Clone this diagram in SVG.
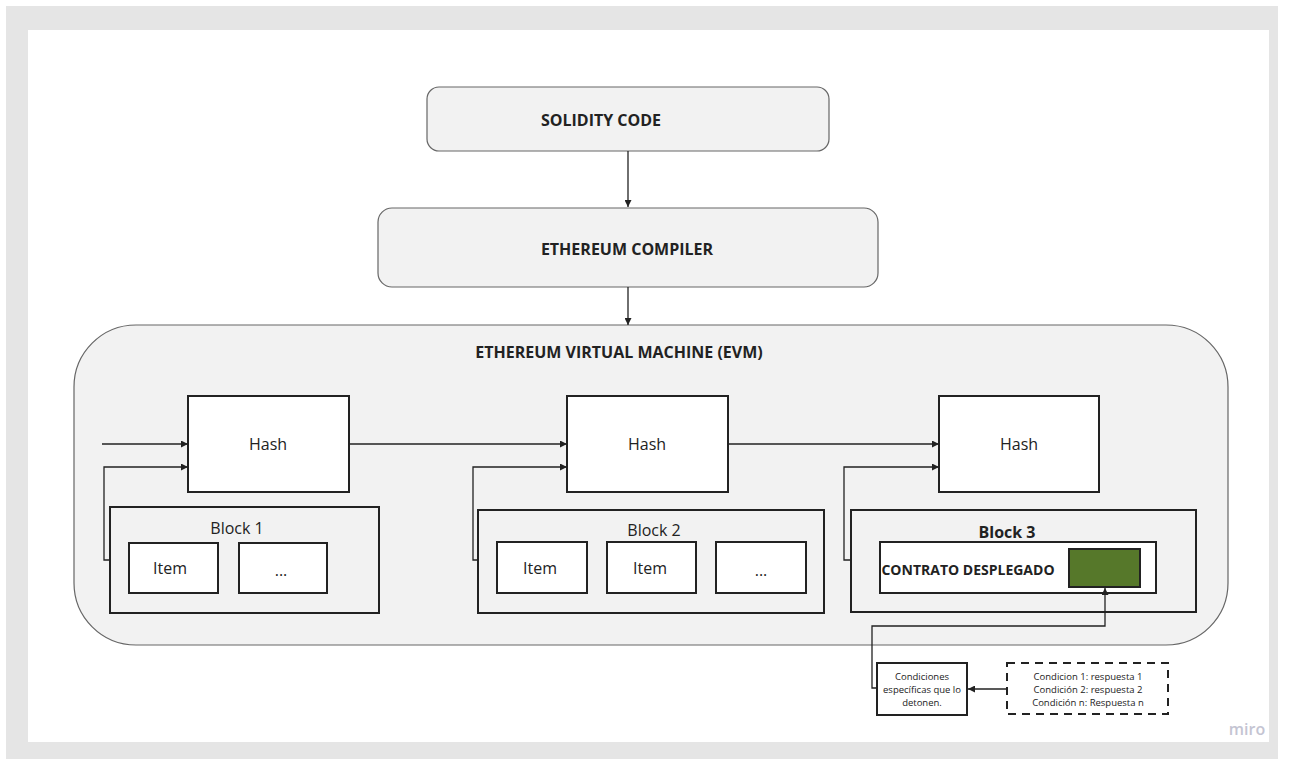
<svg xmlns="http://www.w3.org/2000/svg" width="1295" height="759" viewBox="0 0 1295 759">
<style>
.t{font-family:"Open Sans","Liberation Sans",sans-serif;fill:#222;text-anchor:middle;dominant-baseline:central}
.b{font-weight:bold}
.rb{fill:#f2f2f2;stroke:#666;stroke-width:1.2}
.box{fill:#fff;stroke:#222;stroke-width:2}
.blk{fill:#f2f2f2;stroke:#222;stroke-width:2}
.c{fill:none;stroke:#222;stroke-width:1.3}
</style>
<defs>
<marker id="ah" viewBox="0 0 8 8" refX="8" refY="4" markerWidth="7" markerHeight="7" markerUnits="userSpaceOnUse" orient="auto">
<path d="M0,0 L8,4 L0,8 z" fill="#222"/>
</marker>
</defs>
<rect x="6" y="6" width="1272" height="753" fill="#e5e5e5"/>
<rect x="28" y="30" width="1241" height="712" fill="#fff"/>
<g id="solidity">
<rect class="rb" x="427" y="87" width="402" height="64" rx="12"/>
<text class="t b" x="601" y="120" font-size="16">SOLIDITY CODE</text>
</g>
<g id="compiler">
<rect class="rb" x="378" y="208" width="500" height="79" rx="14"/>
<text class="t b" x="627" y="249" font-size="16">ETHEREUM COMPILER</text>
</g>
<g id="evm">
<rect class="rb" x="74" y="325" width="1154" height="320" rx="62"/>
<text class="t b" x="619" y="352" font-size="16">ETHEREUM VIRTUAL MACHINE (EVM)</text>
</g>
<g id="hash1">
<rect class="box" x="188" y="396" width="161" height="96"/>
<text class="t" x="268" y="444" font-size="16">Hash</text>
</g>
<g id="hash2">
<rect class="box" x="567" y="396" width="161" height="96"/>
<text class="t" x="647" y="444" font-size="16">Hash</text>
</g>
<g id="hash3">
<rect class="box" x="939" y="396" width="160" height="96"/>
<text class="t" x="1019" y="444" font-size="16">Hash</text>
</g>
<g id="block1">
<rect class="blk" x="110" y="507" width="269" height="106"/>
<text class="t" x="237" y="528" font-size="16">Block 1</text>
<rect class="box" x="129" y="543" width="89" height="50"/>
<text class="t" x="170" y="568" font-size="16">Item</text>
<rect class="box" x="239" y="543" width="88" height="50"/>
<text class="t" x="281" y="570" font-size="16">...</text>
</g>
<g id="block2">
<rect class="blk" x="478" y="510" width="346" height="103"/>
<text class="t" x="654" y="530" font-size="16">Block 2</text>
<rect class="box" x="497" y="542" width="90" height="51"/>
<text class="t" x="540" y="568" font-size="16">Item</text>
<rect class="box" x="607" y="542" width="89" height="51"/>
<text class="t" x="650" y="568" font-size="16">Item</text>
<rect class="box" x="716" y="542" width="90" height="51"/>
<text class="t" x="761" y="570" font-size="16">...</text>
</g>
<g id="block3">
<rect class="blk" x="851" y="510" width="345" height="102"/>
<text class="t b" x="1007" y="532" font-size="16">Block 3</text>
<rect class="box" x="880" y="542" width="276" height="51"/>
<text class="t b" x="968" y="569" font-size="14">CONTRATO DESPLEGADO</text>
<rect x="1069" y="549" width="71" height="38" fill="#56782a" stroke="#222" stroke-width="2"/>
</g>
<g id="condiciones">
<rect class="box" x="877" y="663" width="90" height="52"/>
<text class="t" x="922" y="676" font-size="9.5">Condiciones</text>
<text class="t" x="922" y="689" font-size="9.5">específicas que lo</text>
<text class="t" x="922" y="702" font-size="9.5">detonen.</text>
</g>
<g id="respuestas">
<rect x="1007" y="663" width="161" height="51" fill="#fff" stroke="#222" stroke-width="2" stroke-dasharray="8,6"/>
<text class="t" x="1088" y="676" font-size="9.5">Condicion 1: respuesta 1</text>
<text class="t" x="1088" y="689" font-size="9.5">Condición 2: respuesta 2</text>
<text class="t" x="1088" y="702" font-size="9.5">Condición n: Respuesta n</text>
</g>
<g id="connectors">
<path class="c" d="M628,151 V207" marker-end="url(#ah)"/>
<path class="c" d="M628,287 V325" marker-end="url(#ah)"/>
<path class="c" d="M102,444 H188" marker-end="url(#ah)"/>
<path class="c" d="M110,560 H104 V467 H188" marker-end="url(#ah)"/>
<path class="c" d="M349,444 H567" marker-end="url(#ah)"/>
<path class="c" d="M478,560 H473 V467 H567" marker-end="url(#ah)"/>
<path class="c" d="M728,444 H939" marker-end="url(#ah)"/>
<path class="c" d="M851,560 H844 V467 H939" marker-end="url(#ah)"/>
<path class="c" d="M877,688 H872 V626 H1105 V588" marker-end="url(#ah)"/>
<path class="c" d="M1007,689 H968" marker-end="url(#ah)"/>
</g>
<text x="1247" y="729" font-family="'Open Sans','Liberation Sans',sans-serif" font-size="16" font-weight="600" fill="#c4c4d2" text-anchor="middle" dominant-baseline="central">miro</text>
</svg>
